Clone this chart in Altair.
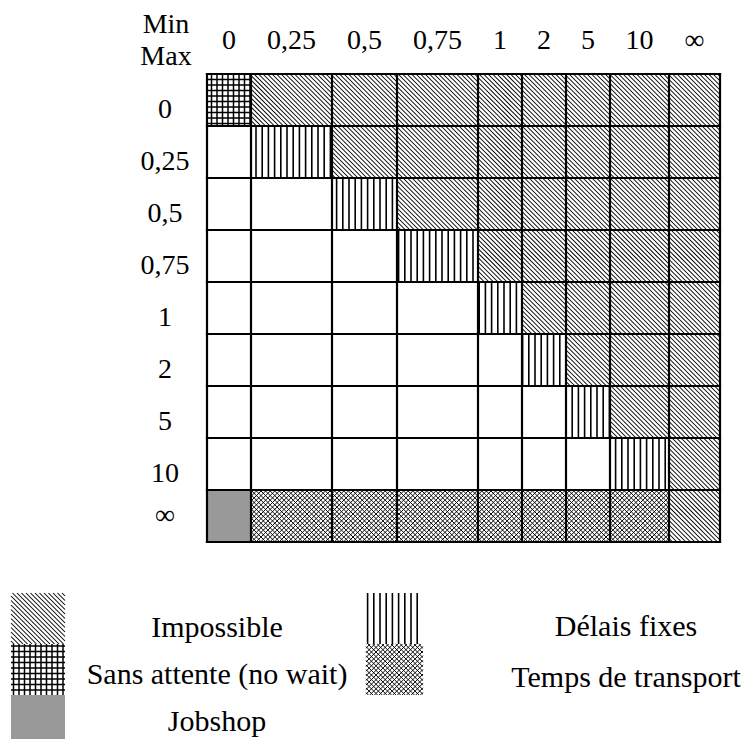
import math
import altair as alt
import pandas as pd

# ---------------- data ----------------
labels = ["0", "0,25", "0,5", "0,75", "1", "2", "5", "10", "∞"]
corner_top = "Min"
corner_bottom = "Max"
# rows = Max value, columns = Min value
# I impossible, N sans attente, F délais fixes, T temps de transport, J jobshop, . rien
cell_rows = [
    "NIIIIIIII",
    ".FIIIIIII",
    "..FIIIIII",
    "...FIIIII",
    "....FIIII",
    ".....FIII",
    "......FII",
    ".......FI",
    "JTTTTTTTI",
]
legend_left_codes = ["I", "N", "J"]
legend_left_names = ["Impossible", "Sans attente (no wait)", "Jobshop"]
legend_right_codes = ["F", "T"]
legend_right_names = ["Délais fixes", "Temps de transport"]

# ---------------- layout (pixels) ----------------
W, H = 735, 731
col_widths = [44, 81, 65, 81, 44, 44, 44, 59, 51]
row_h = 52
gx0, gy0 = 199, 66
row_label_x = 157
row_label_dy = [10, 10, 10, 10, 10, 10, 10, 10, 0]
header_y = 33
corner_x, corner_top_y, corner_bottom_y = 158, 17, 49
FONT = "Liberation Serif"

col_edges = [gx0]
for w in col_widths:
    col_edges.append(col_edges[-1] + w)
row_edges = [gy0 + row_h * i for i in range(len(labels) + 1)]


def pattern(code, x0, y0, x1, y1):
    segs = []
    if code == "I" or code == "T":
        s, lw = (4.5, 1.05) if code == "I" else (4.6, 0.95)
        # "\" lines : x - y = c
        k = math.ceil((x0 - y1) / s)
        while k * s < x1 - y0:
            c = k * s
            xs, xe = max(x0, y0 + c), min(x1, y1 + c)
            if xe - xs > 0.3:
                segs.append((xs, xs - c, xe, xe - c, lw))
            k += 1
        if code == "T":
            k = math.ceil((x0 + y0) / s)
            while k * s < x1 + y1:
                c = k * s
                xs, xe = max(x0, c - y1), min(x1, c - y0)
                if xe - xs > 0.3:
                    segs.append((xs, c - xs, xe, c - xe, lw))
                k += 1
    if code == "F" or code == "N":
        s, lw = (6.2, 1.6) if code == "F" else (5.5, 1.5)
        x = math.ceil(x0 / s) * s
        while x < x1:
            segs.append((x, y0, x, y1, lw))
            x += s
        if code == "N":
            y = math.ceil(y0 / s) * s
            while y < y1:
                segs.append((x0, y, x1, y, lw))
                y += s
    return segs


rects, segs = [], []
for r, row in enumerate(cell_rows):
    for c, code in enumerate(row):
        x0, x1 = col_edges[c], col_edges[c + 1]
        y0, y1 = row_edges[r], row_edges[r + 1]
        rects.append(dict(x=x0, x2=x1, y=y0, y2=y1, f="#999999" if code == "J" else "#ffffff"))
        segs += pattern(code, x0, y0, x1, y1)

# legend swatches
sw_left = (3, 57)
sw_right = (358, 415)
sw_y = [585, 636, 687, 731]
for i, code in enumerate(legend_left_codes):
    y0, y1 = sw_y[i], sw_y[i + 1]
    if code == "J":
        rects.append(dict(x=sw_left[0], x2=sw_left[1], y=y0, y2=y1, f="#999999"))
    segs += pattern(code, sw_left[0], y0, sw_left[1], y1)
for i, code in enumerate(legend_right_codes):
    segs += pattern(code, sw_right[0], sw_y[i], sw_right[1], sw_y[i + 1])

rect_df = pd.DataFrame(rects)
seg_df = pd.DataFrame(segs, columns=["x", "y", "x2", "y2", "w"])

grid = []
for e in col_edges:
    grid.append(dict(x=e, y=row_edges[0], x2=e, y2=row_edges[-1]))
for e in row_edges:
    grid.append(dict(x=col_edges[0], y=e, x2=col_edges[-1], y2=e))
grid_df = pd.DataFrame(grid)

texts = []
for c, lab in enumerate(labels):
    texts.append(dict(x=(col_edges[c] + col_edges[c + 1]) / 2, y=header_y, t=lab))
for r, lab in enumerate(labels):
    texts.append(dict(x=row_label_x, y=(row_edges[r] + row_edges[r + 1]) / 2 + row_label_dy[r], t=lab))
texts.append(dict(x=corner_x, y=corner_top_y, t=corner_top))
texts.append(dict(x=corner_x, y=corner_bottom_y, t=corner_bottom))
axis_text_df = pd.DataFrame(texts)

leg_text = []
leg_left_y = [620, 667, 714]
leg_right_y = [619, 670]
for i, n in enumerate(legend_left_names):
    leg_text.append(dict(x=209, y=leg_left_y[i], t=n))
for i, n in enumerate(legend_right_names):
    leg_text.append(dict(x=618, y=leg_right_y[i], t=n))
leg_text_df = pd.DataFrame(leg_text)

xs = alt.Scale(domain=[0, W], nice=False, zero=False)
ys = alt.Scale(domain=[0, H], nice=False, zero=False, reverse=True)

rect_layer = alt.Chart(rect_df).mark_rect(strokeWidth=0).encode(
    x=alt.X("x:Q", scale=xs, axis=None),
    x2="x2:Q",
    y=alt.Y("y:Q", scale=ys, axis=None),
    y2="y2:Q",
    fill=alt.Fill("f:N", scale=None),
)

seg_layer = alt.Chart(seg_df).mark_rule(color="black", strokeCap="butt").encode(
    x=alt.X("x:Q", scale=xs, axis=None),
    x2="x2:Q",
    y=alt.Y("y:Q", scale=ys, axis=None),
    y2="y2:Q",
    strokeWidth=alt.StrokeWidth("w:Q", scale=None),
)

grid_layer = alt.Chart(grid_df).mark_rule(color="black", strokeWidth=2.2, strokeCap="square").encode(
    x=alt.X("x:Q", scale=xs, axis=None),
    x2="x2:Q",
    y=alt.Y("y:Q", scale=ys, axis=None),
    y2="y2:Q",
)

axis_text_layer = alt.Chart(axis_text_df).mark_text(
    font=FONT, fontSize=28, color="black", baseline="middle", align="center"
).encode(
    x=alt.X("x:Q", scale=xs, axis=None),
    y=alt.Y("y:Q", scale=ys, axis=None),
    text="t:N",
)

leg_text_layer = alt.Chart(leg_text_df).mark_text(
    font=FONT, fontSize=30, color="black", baseline="middle", align="center"
).encode(
    x=alt.X("x:Q", scale=xs, axis=None),
    y=alt.Y("y:Q", scale=ys, axis=None),
    text="t:N",
)

chart = alt.layer(
    rect_layer, seg_layer, grid_layer, axis_text_layer, leg_text_layer
).properties(
    width=W, height=H, padding=0, autosize=alt.AutoSizeParams(type="none")
).configure_view(stroke=None)

chart.save("out.html", embed_options={"renderer": "svg", "actions": False})
